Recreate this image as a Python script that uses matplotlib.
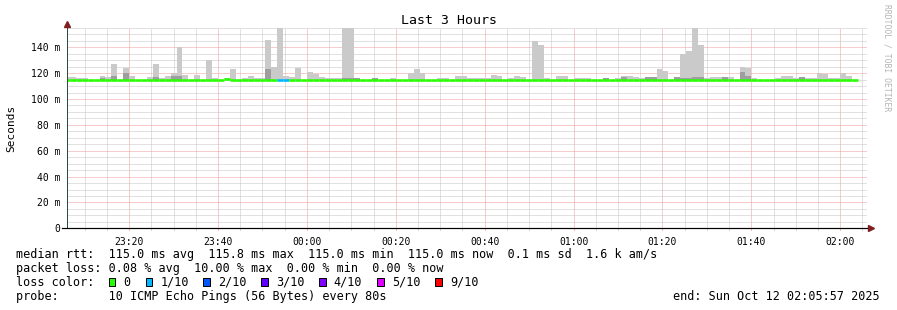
import numpy as np
import matplotlib.pyplot as plt
from matplotlib.patches import Rectangle

# ------------------------------------------------------------
# Data (80 s steps, times in minutes relative to 00:00)
# ------------------------------------------------------------
step_min = 80 / 60
first_left = -54 - 2 / 3
t_start, t_end = -54.05, 125.95

median_ms = [
    115.0, 115.0, 115.0, 115.0, 115.0, 115.0, 115.0, 115.0, 115.0, 115.0,
    115.0, 115.0, 115.0, 115.0, 115.0, 115.0, 115.0, 115.0, 115.0, 115.0,
    115.0, 115.0, 115.0, 115.0, 115.0, 115.0, 115.0, 115.8, 115.0, 115.0,
    115.0, 115.0, 115.0, 115.0, 115.0, 115.0, 115.0, 115.0, 115.0, 115.0,
    115.0, 115.0, 115.0, 115.0, 115.0, 115.0, 115.0, 115.0, 115.0, 115.0,
    115.0, 115.0, 115.0, 115.0, 115.0, 115.0, 115.0, 115.0, 115.0, 115.0,
    115.0, 115.0, 115.0, 115.0, 115.0, 115.0, 115.0, 115.0, 115.0, 115.0,
    115.0, 115.0, 115.0, 115.0, 115.0, 115.0, 115.0, 115.0, 115.0, 115.0,
    115.0, 115.0, 115.0, 115.0, 115.0, 115.0, 115.0, 115.0, 115.0, 115.0,
    115.0, 115.0, 115.0, 115.0, 115.0, 115.0, 115.0, 115.0, 115.0, 115.0,
    115.0, 115.0, 115.0, 115.0, 115.0, 115.0, 115.0, 115.0, 115.0, 115.0,
    115.0, 115.0, 115.0, 115.0, 115.0, 115.0, 115.0, 115.0, 115.0, 115.0,
    115.0, 115.0, 115.0, 115.0, 115.0, 115.0, 115.0, 115.0, 115.0, 115.0,
    115.0, 115.0, 115.0, 115.0,
]

# slowest ping per step (light smoke top)
max_ms = [
    117, 117, 116.5, 116.5, 115, 115, 118, 117, 127, 115,
    124, 118, 115, 115, 117, 127, 116.5, 118, 120, 140,
    118.5, 115, 118.5, 115, 130, 116.5, 115, 116, 123, 115,
    116.5, 118, 116.5, 116.5, 146, 125, 155, 118, 117, 124,
    115, 121, 119, 117, 116.5, 116.5, 116.5, 155, 155, 116.5,
    115, 115, 116.5, 115, 115, 116.5, 115, 115, 120, 123,
    120, 115, 115, 116.5, 116.5, 115, 118, 117.5, 116.5, 116.5,
    116.5, 116.5, 118.5, 118, 115, 116.5, 118, 117, 115, 144.5,
    141.5, 116.5, 115, 118, 118, 115, 116.5, 116.5, 116.5, 115,
    115, 116.5, 115, 116.5, 118, 118, 117, 116.5, 117, 117,
    123, 121.5, 115, 117, 134.5, 137, 155, 141.5, 116.5, 117,
    117, 117, 117, 115, 124.5, 124, 116.5, 115, 115, 115,
    116.5, 118, 117.5, 116.5, 117, 116.5, 116.5, 120, 119, 116.5,
    116.5, 120, 118, 115,
]

# inner pings (darker smoke top)
dark_ms = [
    115, 115, 115, 115, 115, 115, 116.5, 115, 118, 115,
    120, 115, 115, 115, 115, 117, 115, 115, 118, 117.5,
    115, 115, 115, 115, 115, 115, 115, 115, 115, 115,
    115, 115, 115, 115, 123, 115, 115, 115, 115, 115,
    115, 115, 115, 115, 115, 115, 115, 116.5, 116.5, 116.5,
    115, 115, 116.5, 115, 115, 115, 115, 115, 115, 115,
    115, 115, 115, 115, 115, 115, 115, 115, 115, 115,
    115, 115, 115, 115, 115, 115, 115, 115, 115, 115,
    115, 115, 115, 115, 115, 115, 115, 115, 115, 115,
    115, 116.5, 115, 115, 117, 115, 115, 115, 117, 117,
    115, 115, 115, 117, 116.5, 116.5, 117, 117, 115, 115,
    115, 117, 115, 115, 121, 118, 115, 115, 115, 115,
    115, 115, 115, 115, 117, 115, 115, 115, 115, 115,
    115, 115, 115, 115,
]

# lost pings out of 10 per step
loss_tenths = [
    0, 0, 0, 0, 0, 0, 0, 0, 0, 0,
    0, 0, 0, 0, 0, 0, 0, 0, 0, 0,
    0, 0, 0, 0, 0, 0, 0, 0, 0, 0,
    0, 0, 0, 0, 0, 0, 1, 1, 0, 0,
    0, 0, 0, 0, 0, 0, 0, 0, 0, 0,
    0, 0, 0, 0, 0, 0, 0, 0, 0, 0,
    0, 0, 0, 0, 0, 0, 0, 0, 0, 0,
    0, 0, 0, 0, 0, 0, 0, 0, 0, 0,
    0, 0, 0, 0, 0, 0, 0, 0, 0, 0,
    0, 0, 0, 0, 0, 0, 0, 0, 0, 0,
    0, 0, 0, 0, 0, 0, 0, 0, 0, 0,
    0, 0, 0, 0, 0, 0, 0, 0, 0, 0,
    0, 0, 0, 0, 0, 0, 0, 0, 0, 0,
    0, 0, 0, 0,
]

loss_labels = ["0", "1/10", "2/10", "3/10", "4/10", "5/10", "9/10"]
loss_keys = [0, 1, 2, 3, 4, 5, 9]
loss_colors = ["#26ff00", "#00b8ff", "#0059ff", "#5e00ff", "#7e00ff", "#dd00ff", "#ff0000"]

xtick_min = [-40, -20, 0, 20, 40, 60, 80, 100, 120]
xtick_labels = ["23:20", "23:40", "00:00", "00:20", "00:40", "01:00", "01:20", "01:40", "02:00"]
ytick_ms = [0, 20, 40, 60, 80, 100, 120, 140]
ytick_labels = ["0", "20 m", "40 m", "60 m", "80 m", "100 m", "120 m", "140 m"]
y_top = 155

legend_lines = [
    "median rtt:  115.0 ms avg  115.8 ms max  115.0 ms min  115.0 ms now  0.1 ms sd  1.6 k am/s",
    "packet loss: 0.08 % avg  10.00 % max  0.00 % min  0.00 % now",
    "loss color:",
    "probe:       10 ICMP Echo Pings (56 Bytes) every 80s",
]
end_text = "end: Sun Oct 12 02:05:57 2025"

# ------------------------------------------------------------
# Figure
# ------------------------------------------------------------
W, H = 897, 310
plt.rcParams["font.family"] = ["DejaVu Sans Mono"]
AXIS = "#2c4d43"
ARROW = "#7f1f1f"
MINOR = "#c4c4c4"
MAJOR = "#f09a9a"
PX = 0.72  # one pixel in points at dpi 100

fig = plt.figure(figsize=(W / 100, H / 100), dpi=100)
fig.patch.set_facecolor("white")
ax = fig.add_axes([66.7 / W, (H - 228.3) / H, 800 / W, 200.4 / H])
ax.set_xlim(t_start, t_end)
ax.set_ylim(0, y_top)
for s in ax.spines.values():
    s.set_visible(False)

# grid (dotted, beneath the smoke)
for t in np.arange(-50, 126, 5):
    major = t % 20 == 0
    ax.axvline(t, color=MAJOR if major else MINOR, lw=PX, ls=(0, (1, 1)), zorder=0)
for v in np.arange(5, 156, 5):
    major = v % 20 == 0
    ax.axhline(v, color=MAJOR if major else MINOR, lw=PX, ls=(0, (1, 1)), zorder=0)

# smoke
med = np.array(median_ms)
lefts = first_left + step_min * np.arange(len(med))
ax.bar(lefts, np.array(max_ms) - med, bottom=med, width=step_min, align="edge",
       color="#cacaca", lw=0, zorder=2)
ax.bar(lefts, np.maximum(np.array(dark_ms) - med, 0), bottom=med, width=step_min,
       align="edge", color="#9e9e9e", lw=0, zorder=3)

# median line coloured by loss
color_of = dict(zip(loss_keys, loss_colors))
for left, m, loss in zip(lefts, med, loss_tenths):
    ax.hlines(m, max(left, t_start), left + step_min, color=color_of[loss],
              lw=2.6 * PX, zorder=4)

# axes with arrows
ax.plot([t_start, t_start], [0, y_top + 3], color=AXIS, lw=PX, clip_on=False, zorder=5)
ax.plot([t_start - 1.1, t_end + 0.4], [0, 0], color="black", lw=1.2 * PX, clip_on=False, zorder=5)
ax.plot([t_start], [y_top + 2.8], marker="^", ms=4.2, color=ARROW, clip_on=False, zorder=6)
ax.plot([t_end + 1.0], [0], marker=">", ms=4.2, color=ARROW, clip_on=False, zorder=6)

ax.set_xticks(xtick_min)
ax.set_xticklabels(xtick_labels, fontsize=7)
ax.set_xticks(np.arange(-50, 126, 5), minor=True)
ax.set_yticks(ytick_ms)
ax.set_yticklabels(ytick_labels, fontsize=7)
ax.tick_params(axis="x", which="major", length=1.6, width=PX, color=MAJOR,
               direction="out", pad=4.5)
ax.tick_params(axis="x", which="minor", length=1.6, width=PX, color=MINOR, direction="out")
ax.tick_params(axis="y", which="major", length=0, pad=4.8)
ax.tick_params(axis="y", which="minor", length=0)
ax.set_facecolor("white")


def fx(x):
    return x / W


def fy(y):
    return 1 - y / H


fig.text(fx(448.5), fy(20), "Last 3 Hours", fontsize=9.5, ha="center", va="center")
fig.text(fx(11), fy(128), "Seconds", fontsize=8, rotation=90, ha="center", va="center")
fig.text(fx(886.5), fy(4), "RRDTOOL / TOBI OETIKER", fontsize=5.8, rotation=270,
         ha="center", va="top", color="#b4b4b4")

baselines = [257.7, 271.7, 285.7, 299.7]
for line, yb in zip(legend_lines, baselines):
    fig.text(fx(16), fy(yb), line, fontsize=8.5, ha="left", va="baseline")
fig.text(fx(880), fy(baselines[3]), end_text, fontsize=8.5, ha="right", va="baseline")

box_x = [108.7, 145.7, 203.3, 261.3, 319.3, 377.3, 435.3]
for bx, col, lab in zip(box_x, loss_colors, loss_labels):
    fig.add_artist(Rectangle((fx(bx), fy(286.3)), 6.6 / W, 8 / H, transform=fig.transFigure,
                             facecolor=col, edgecolor="black", lw=PX))
    fig.text(fx(bx + 14.5), fy(baselines[2]), lab, fontsize=8.5, ha="left", va="baseline")

fig.savefig("out.png", dpi=100)
